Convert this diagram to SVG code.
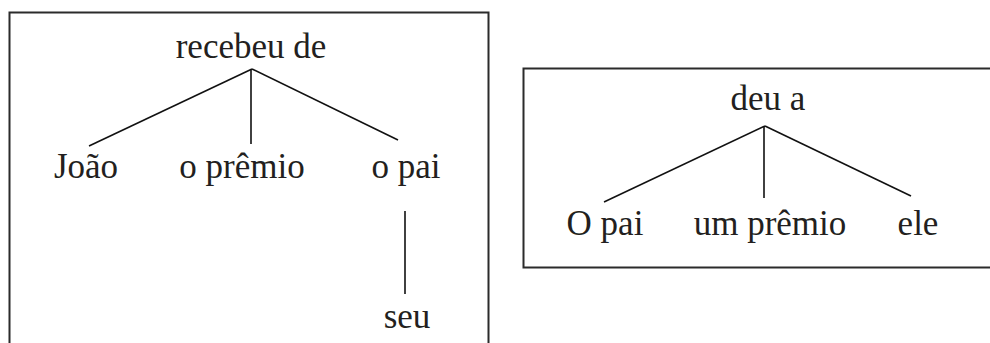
<svg xmlns="http://www.w3.org/2000/svg" width="990" height="343" viewBox="0 0 990 343">
<style>
.box{fill:none;stroke:#2b2b2b;stroke-width:2}
.edge{stroke:#111;stroke-width:1.6;fill:none}
text{font-family:"Liberation Serif","Times New Roman",serif;font-size:35px;fill:#231f20;text-anchor:middle}
</style>
<rect width="990" height="343" fill="#fff"/>
<g id="frame-left"><path class="box" d="M9.5,345 V12.5 H488.5 V345"/></g>
<g id="frame-right"><path class="box" d="M991,68.5 H523.5 V267.5 H991"/></g>
<g id="connectors">
<line class="edge" x1="252" y1="69" x2="89" y2="146"/>
<line class="edge" x1="251" y1="69" x2="251" y2="144"/>
<line class="edge" x1="252" y1="69" x2="398" y2="140"/>
<line class="edge" x1="405" y1="211" x2="405" y2="294"/>
<line class="edge" x1="765" y1="126" x2="604" y2="202"/>
<line class="edge" x1="764" y1="126" x2="764" y2="198"/>
<line class="edge" x1="765" y1="126" x2="911" y2="196"/>
</g>
<g id="n-recebeu"><text x="251" y="58">recebeu de</text></g>
<g id="n-joao"><text x="86" y="178">João</text></g>
<g id="n-premio"><text x="242" y="178">o prêmio</text></g>
<g id="n-opai"><text x="406" y="178">o pai</text></g>
<g id="n-seu"><text x="407" y="328">seu</text></g>
<g id="n-deua"><text x="768" y="110">deu a</text></g>
<g id="n-Opai"><text x="605" y="235">O pai</text></g>
<g id="n-umpremio"><text x="770" y="235">um prêmio</text></g>
<g id="n-ele"><text x="918" y="235">ele</text></g>
</svg>
